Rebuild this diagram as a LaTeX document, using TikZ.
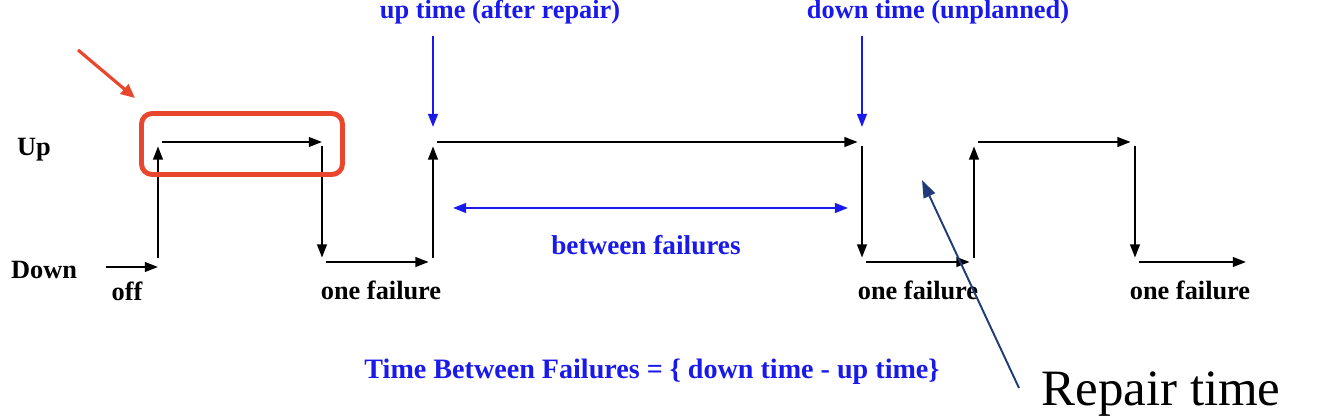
\documentclass[tikz,border=0pt]{standalone}
\usepackage{fontspec}
\setmainfont{Liberation Serif}
\usetikzlibrary{arrows.meta}
\definecolor{lblblue}{RGB}{25,25,235}
\definecolor{boxred}{RGB}{232,70,45}
\definecolor{navy}{RGB}{31,60,120}
\begin{document}
\begin{tikzpicture}[
	x=0.02cm, y=-0.02cm,
	wave/.style={ black, line width=1.2pt, -{Triangle[length=7.5pt,width=5.5pt]}, shorten <=2.5pt, shorten >=2.5pt },
	bluearr/.style={ lblblue, line width=1.3pt, -{Triangle[length=7.5pt,width=5.5pt]} },
	txt/.style={ font=\bfseries\fontsize{15}{18}\selectfont, inner sep=0pt },
	bluetxt/.style={ txt, text=lblblue }
]
\clip (0,0) rectangle (1330,418);

% levels
\node at (34,150) (up) [txt] {Up};
\node at (44,270) (down) [txt] {Down};

% corners of the wave
\coordinate (start) at (106,267);
\coordinate (d0) at (158,262);
\coordinate (u0) at (158,142);
\coordinate (u1) at (322,142);
\coordinate (d1) at (322,262);
\coordinate (d2) at (433,262);
\coordinate (u2) at (433,142);
\coordinate (u3) at (862,142);
\coordinate (d3) at (862,262);
\coordinate (d4) at (974,262);
\coordinate (u4) at (974,142);
\coordinate (u5) at (1135,142);
\coordinate (d5) at (1135,262);
\coordinate (end) at (1246,262);

\draw [wave, shorten <=0pt, shorten >=0pt] (start) to (start -| d0);
\draw [wave] (d0) to (u0);
\draw [wave, shorten >=0pt] (u0) to (u1);
\draw [wave] (u1) to (d1);
\draw [wave] (d1) to (d2);
\draw [wave] (d2) to (u2);
\draw [wave] (u2) to (u3);
\draw [wave] (u3) to (d3);
\draw [wave] (d3) to (d4);
\draw [wave] (d4) to (u4);
\draw [wave] (u4) to (u5);
\draw [wave] (u5) to (d5);
\draw [wave, shorten >=0pt] (d5) to (end);

\node at (127,291) (off) [txt] {off};
\node at (381,290) (fail1) [txt] {one failure};
\node at (918,290) (fail2) [txt] {one failure};
\node at (1190,290) (fail3) [txt] {one failure};

% blue labels
\node at (500,12) (uptime) [bluetxt] {up time (after repair)};
\node at (938,12) (downtime) [bluetxt] {down time (unplanned)};
\coordinate (upA) at (433,36);
\coordinate (downA) at (862,36);
\draw [bluearr, shorten >=8.5pt] (upA) to (u2);
\draw [bluearr, shorten >=8.5pt] (downA) to (u3);

\coordinate (mtbfL) at (453,208);
\coordinate (mtbfR) at (848,208);
\draw [bluearr, {Triangle[length=7.5pt,width=5.5pt]}-{Triangle[length=7.5pt,width=5.5pt]}] (mtbfL) to (mtbfR);
\node at (646,245) (between) [bluetxt, font=\bfseries\fontsize{15.5}{18}\selectfont] {between failures};
\node at (652,372) (formula) [bluetxt, font=\bfseries\fontsize{16}{19}\selectfont] {Time Between Failures = \{ down time - up time\}};

% highlight
\node at (242,144) (hl) [draw=boxred, line width=2.8pt, rounded corners=6pt, minimum width=4.02cm, minimum height=1.22cm] {};
\coordinate (redtail) at (78,50);
\coordinate (redtip) at (135,98);
\draw [boxred, line width=1.8pt, -{Triangle[length=8pt,width=7pt]}] (redtail) to (redtip);

% repair time
\node at (1161,406) (repair) [anchor=base, font=\fontsize{29}{33}\selectfont, inner sep=0pt] {Repair time};
\coordinate (repTail) at (1019,388);
\coordinate (repTip) at (922,180);
\draw [navy, line width=1.1pt, -{Triangle[length=10pt,width=7pt]}] (repTail) to (repTip);

\end{tikzpicture}
\end{document}
